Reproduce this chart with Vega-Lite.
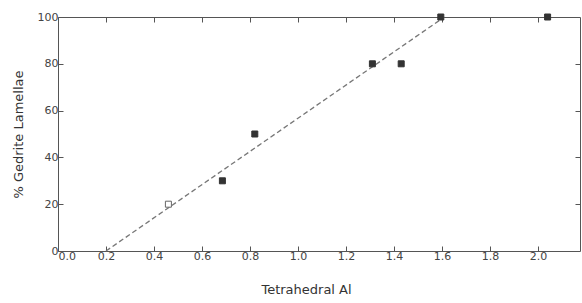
{
  "$schema": "https://vega.github.io/schema/vega-lite/v6.json",
  "autosize": {"type": "none"},
  "width": 522,
  "height": 234,
  "padding": {"left": 58, "top": 17, "right": 2, "bottom": 52},
  "background": "white",
  "config": {
    "view": {"stroke": null},
    "axis": {
      "grid": false,
      "domainColor": "#555",
      "tickColor": "#555",
      "labelColor": "#444",
      "titleColor": "#333",
      "labelFont": "DejaVu Sans",
      "titleFont": "DejaVu Sans",
      "labelFontSize": 11,
      "titleFontSize": 13,
      "titleFontWeight": "normal"
    }
  },
  "datasets": {
    "pts": [
      {"al": 0.46, "pct": 20, "type": "open"},
      {"al": 0.685, "pct": 30, "type": "filled"},
      {"al": 0.82, "pct": 50, "type": "filled"},
      {"al": 1.31, "pct": 80, "type": "filled"},
      {"al": 1.43, "pct": 80, "type": "filled"},
      {"al": 1.595, "pct": 100, "type": "filled"},
      {"al": 2.04, "pct": 100, "type": "filled"}
    ],
    "fit": [
      {"al": 0.2, "pct": 0},
      {"al": 1.61, "pct": 100}
    ]
  },
  "resolve": {"axis": {"x": "independent", "y": "independent"}},
  "layer": [
    {
      "data": {"name": "fit"},
      "mark": {"type": "line", "strokeDash": [5, 3], "color": "#777", "strokeWidth": 1.3},
      "encoding": {
        "x": {"field": "al", "type": "quantitative", "scale": {"domain": [0, 2.175], "nice": false},
          "axis": {"orient": "top", "labels": false, "title": null, "values": [0.2,0.4,0.6,0.8,1.0,1.2,1.4,1.6,1.8,2.0], "tickSize": -5}},
        "y": {"field": "pct", "type": "quantitative", "scale": {"domain": [0, 100], "nice": false},
          "axis": {"orient": "right", "labels": false, "title": null, "values": [20,40,60,80], "tickSize": -5}}
      }
    },
    {
      "data": {"name": "pts"},
      "mark": {"type": "point", "shape": "square", "size": 36, "strokeWidth": 1},
      "encoding": {
        "x": {"field": "al", "type": "quantitative",
          "axis": {"orient": "bottom", "title": "Tetrahedral Al", "values": [0,0.2,0.4,0.6,0.8,1.0,1.2,1.4,1.6,1.8,2.0], "format": ".1f", "tickSize": -5, "labelPadding": 4, "titlePadding": 22, "titleX": 248}},
        "y": {"field": "pct", "type": "quantitative",
          "axis": {"orient": "left", "title": "% Gedrite Lamellae", "values": [0,20,40,60,80,100], "tickSize": -5, "labelPadding": 5, "titlePadding": 12}},
        "fill": {"field": "type", "type": "nominal", "scale": {"domain": ["open", "filled"], "range": ["white", "#333"]}, "legend": null},
        "stroke": {"field": "type", "type": "nominal", "scale": {"domain": ["open", "filled"], "range": ["#666", "#333"]}, "legend": null},
        "opacity": {"value": 1}
      }
    }
  ]
}
